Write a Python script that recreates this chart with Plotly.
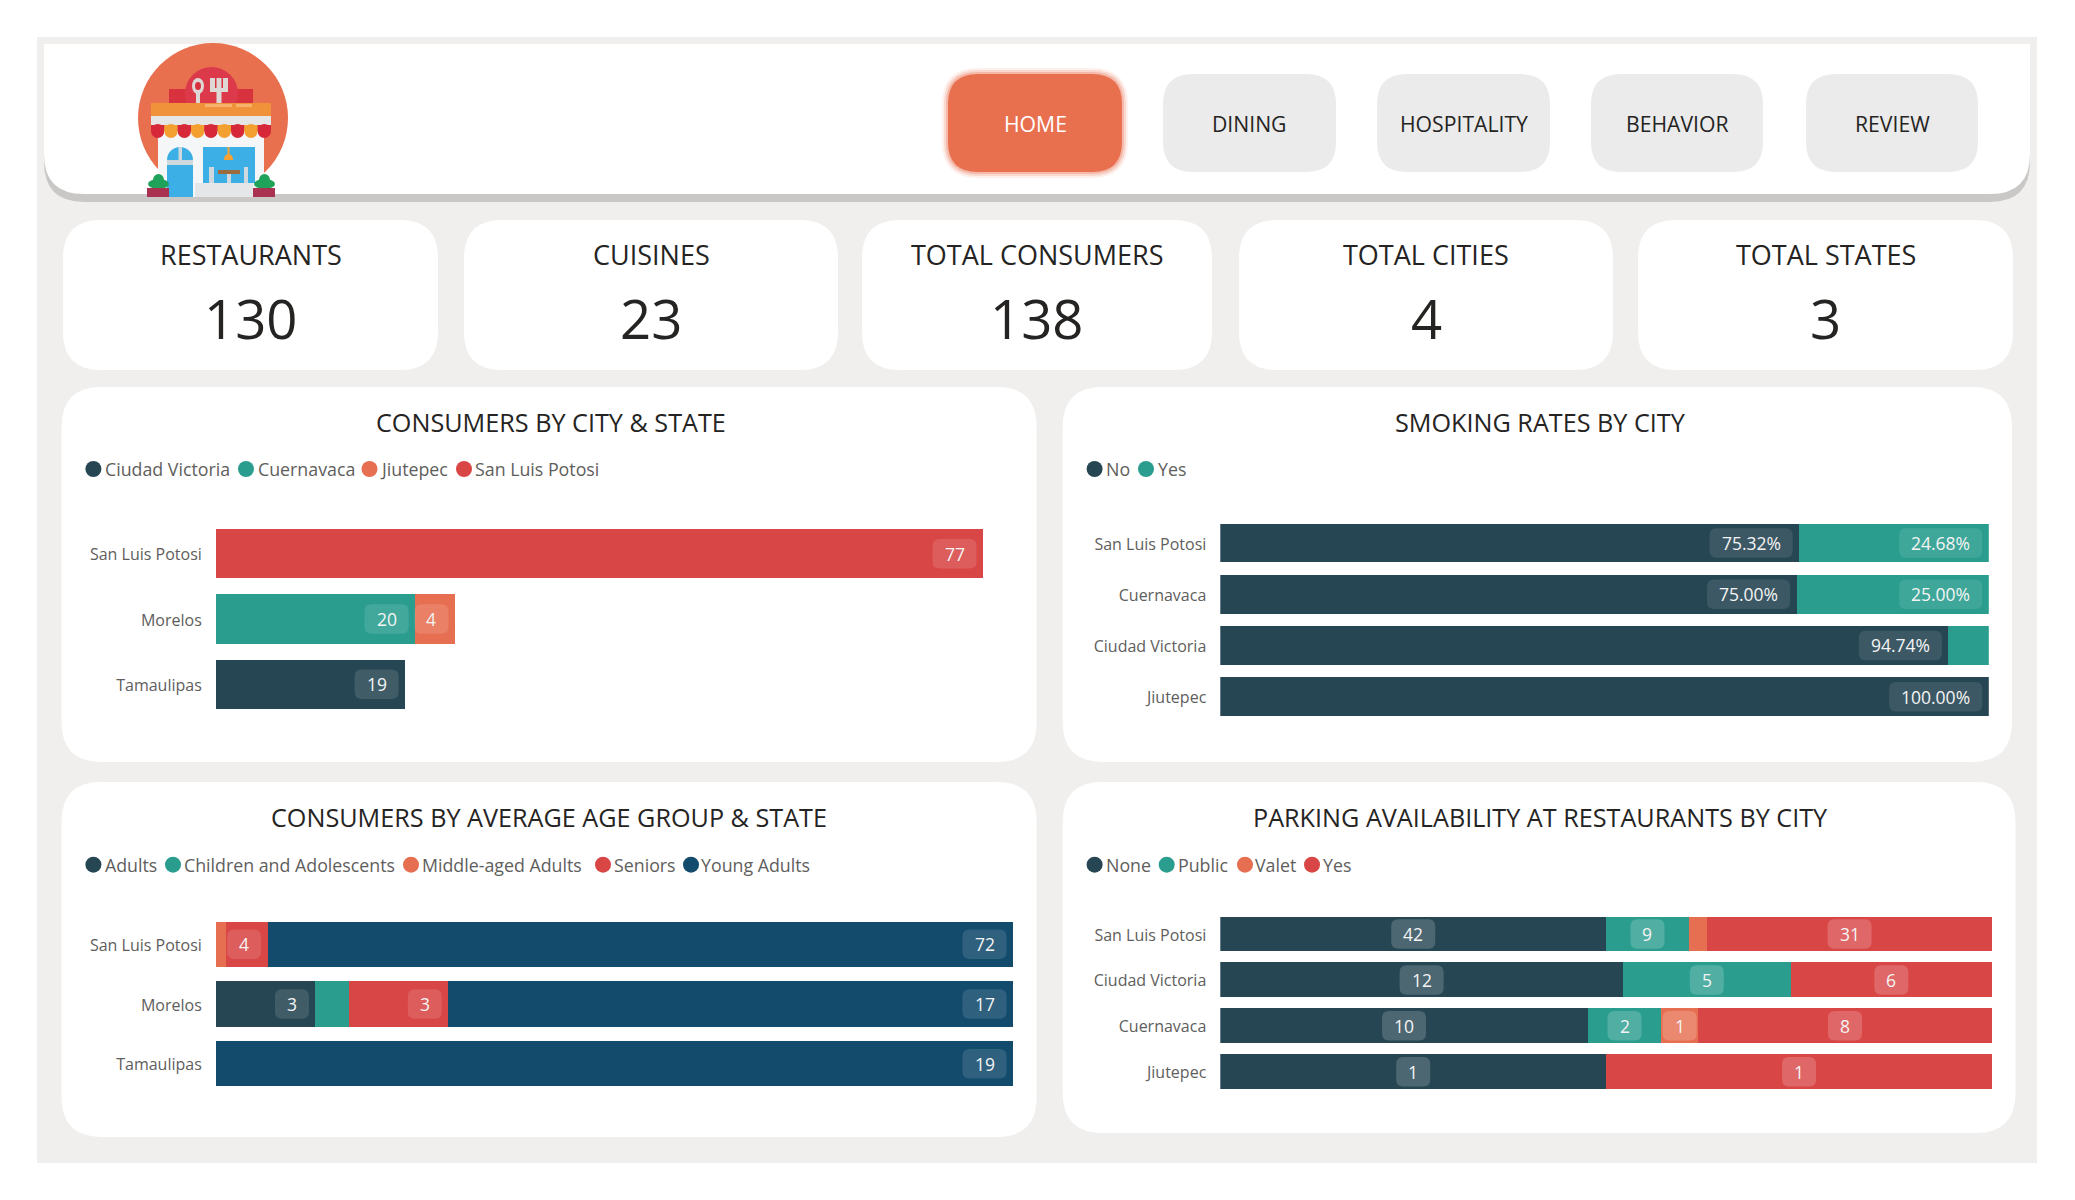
import plotly.graph_objects as go

W, H = 2075, 1200
FONT = "Open Sans"
TICK = "#605E5C"
INK = "#252423"
NAVY, TEAL, ORANGE, RED, BLUE = "#264653", "#2A9D8F", "#E76F51", "#D94646", "#134B6D"

# ---------- data ----------
kpi_titles = ["RESTAURANTS", "CUISINES", "TOTAL CONSUMERS", "TOTAL CITIES", "TOTAL STATES"]
kpi_values = ["130", "23", "138", "4", "3"]
nav_labels = ["HOME", "DINING", "HOSPITALITY", "BEHAVIOR", "REVIEW"]

states = ["San Luis Potosi", "Morelos", "Tamaulipas"]
city_series = ["Ciudad Victoria", "Cuernavaca", "Jiutepec", "San Luis Potosi"]
city_ciudad = [0, 0, 19]
city_cuernavaca = [0, 20, 0]
city_jiutepec = [0, 4, 0]
city_sanluis = [77, 0, 0]

smoke_cities = ["San Luis Potosi", "Cuernavaca", "Ciudad Victoria", "Jiutepec"]
smoke_series = ["No", "Yes"]
smoke_no = [75.32, 75.00, 94.74, 100.00]
smoke_yes = [24.68, 25.00, 5.26, 0]

age_series = ["Adults", "Children and Adolescents", "Middle-aged Adults", "Seniors", "Young Adults"]
age_adults = [0, 3, 0]
age_children = [0, 1, 0]
age_middle = [1, 0, 0]
age_seniors = [4, 3, 0]
age_young = [72, 17, 19]

park_cities = ["San Luis Potosi", "Ciudad Victoria", "Cuernavaca", "Jiutepec"]
park_series = ["None", "Public", "Valet", "Yes"]
park_none = [42, 12, 10, 1]
park_public = [9, 5, 2, 0]
park_valet = [2, 0, 1, 0]
park_yes = [31, 6, 8, 1]

# ---------- helpers ----------
px = lambda x: x / W
py = lambda y: 1 - y / H
shapes, annotations = [], []


def rrect_path(x0, y0, x1, y1, r):
    p = lambda x, y: f"{px(x):.5f},{py(y):.5f}"
    return (f"M{p(x0 + r, y0)} L{p(x1 - r, y0)} Q{p(x1, y0)} {p(x1, y0 + r)} "
            f"L{p(x1, y1 - r)} Q{p(x1, y1)} {p(x1 - r, y1)} L{p(x0 + r, y1)} "
            f"Q{p(x0, y1)} {p(x0, y1 - r)} L{p(x0, y0 + r)} Q{p(x0, y0)} {p(x0 + r, y0)} Z")


def rrect(x0, y0, x1, y1, r, fill):
    shapes.append(dict(type="path", xref="paper", yref="paper", path=rrect_path(x0, y0, x1, y1, r),
                       fillcolor=fill, line_width=0, layer="below"))


def rect(x0, y0, x1, y1, fill):
    shapes.append(dict(type="rect", xref="paper", yref="paper", x0=px(x0), x1=px(x1), y0=py(y1), y1=py(y0),
                       fillcolor=fill, line_width=0, layer="below"))


def oval(x0, y0, x1, y1, fill):
    shapes.append(dict(type="circle", xref="paper", yref="paper", x0=px(x0), x1=px(x1), y0=py(y1), y1=py(y0),
                       fillcolor=fill, line_width=0, layer="below"))


def header_path(x0, y0, x1, y1, r):
    p = lambda x, y: f"{px(x):.5f},{py(y):.5f}"
    return (f"M{p(x0, y0)} L{p(x1, y0)} L{p(x1, y1 - r)} Q{p(x1, y1)} {p(x1 - r, y1)} "
            f"L{p(x0 + r, y1)} Q{p(x0, y1)} {p(x0, y1 - r)} Z")


def label(x, y, text, size, color=INK, anchor="center"):
    annotations.append(dict(xref="paper", yref="paper", x=px(x), y=py(y), text=text, showarrow=False,
                            xanchor=anchor, yanchor="middle", font=dict(family=FONT, size=size, color=color)))


def text_w(s):
    return sum(4.7 if c == "." else 14.4 if c == "%" else 10 for c in s)


# ---------- page furniture ----------
rect(37, 37, 2037, 1163, "#F0EFEE")
shapes.append(dict(type="path", xref="paper", yref="paper", path=header_path(44, 52, 2030, 202, 40),
                   fillcolor="#C9C8C6", line_width=0, layer="below"))
shapes.append(dict(type="path", xref="paper", yref="paper", path=header_path(44, 44, 2030, 194, 40),
                   fillcolor="#FFFFFF", line_width=0, layer="below"))

# logo
oval(138, 43, 288, 193, "#E9704F")
rect(169, 89, 253, 104, "#D8323F")
oval(185, 67, 238, 120, "#DC3A4B")
oval(192, 78, 204, 94, "#DDD8D6")
oval(195, 82, 201, 90, "#D8323F")
rect(196, 92, 200, 103, "#DDD8D6")
rect(210, 78, 228, 92, "#DDD8D6")
rect(215, 78, 216.5, 88, "#D8323F")
rect(221.5, 78, 223, 88, "#D8323F")
rect(216.5, 90, 221.5, 103, "#DDD8D6")
rect(158, 130, 264, 197, "#F5F6F8")
oval(167, 147, 193, 173, "#3BAFE6")
rect(167, 160, 193, 197, "#3BAFE6")
rect(178.5, 147, 182, 162, "#CFD8DC")
rect(167, 160, 193, 165, "#CFD8DC")
rect(203, 147, 255, 183, "#3BAFE6")
rect(227.5, 147, 229.5, 155, "#F7A234")
oval(224, 154, 233, 165, "#F7A234")
rect(224, 160, 233, 166, "#3BAFE6")
rect(218, 170, 240, 174, "#9C6B3E")
rect(209, 167, 214, 183, "#CFD8DC")
rect(244, 167, 248, 183, "#CFD8DC")
rect(227, 174, 231, 183, "#CFD8DC")
rect(195, 183, 253, 197, "#E4E6E8")
rect(151, 103, 271, 116, "#F0923A")
rect(205, 104, 232, 107, "#F6B26B")
rect(236, 104, 252, 107, "#F6B26B")
rect(151, 116, 271, 125, "#E6E6E6")
for i in range(9):
    c = "#D62839" if i % 2 == 0 else "#F4A030"
    rect(151 + i * 13.33, 125, 151 + (i + 1) * 13.33, 131, c)
    oval(151 + i * 13.33, 124, 151 + (i + 1) * 13.33, 138, c)
for x0 in (147, 253):
    oval(x0 + 1, 179, x0 + 22, 189, "#1FA35A")
    oval(x0 + 6, 174, x0 + 17, 186, "#1FA35A")
    rect(x0, 188, x0 + 22, 197, "#A83250")

# nav buttons
nav_x = [(948, 1122), (1163, 1336), (1377, 1550), (1591, 1763), (1806, 1978)]
for i, (name, (x0, x1)) in enumerate(zip(nav_labels, nav_x)):
    if i == 0:
        for g, a in [(6, 0.10), (4, 0.18), (2, 0.3)]:
            rrect(x0 - g, 74 - g, x1 + g, 172 + g, 30 + g, f"rgba(233,112,79,{a})")
    rrect(x0, 74, x1, 172, 30, "#E9704F" if i == 0 else "#EBEBEB")
    label((x0 + x1) / 2, 124, name, 21.2, "#FFFFFF" if i == 0 else INK)

# KPI cards
kpi_x = [(63, 438), (464, 838), (862, 1212), (1239, 1613), (1638, 2013)]
for t, v, (x0, x1) in zip(kpi_titles, kpi_values, kpi_x):
    rrect(x0, 220, x1, 370, 38, "#FFFFFF")
    label((x0 + x1) / 2, 254.5, t, 27, INK)
    label((x0 + x1) / 2, 318, v, 54.5, INK)

fig = go.Figure()

# ---------- charts ----------
panels = [
    dict(box=(61.5, 387, 1036.6, 762), title="CONSUMERS BY CITY &amp; STATE", tc=(550.6, 421.7), ly=469,
         names=city_series, cats=states, series=[city_ciudad, city_cuernavaca, city_jiutepec, city_sanluis],
         colors=[NAVY, TEAL, ORANGE, RED], dots=[93.4, 246, 369.5, 464], texts=[105, 258.5, 380, 475],
         x0=215.8, x1=983, y0=521, y1=717, rng=77, mode="end", fmt="{:.0f}", alpha=0.12, norm=False),
    dict(box=(1062.7, 387, 2012, 762), title="SMOKING RATES BY CITY", tc=(1540, 421.7), ly=469,
         names=smoke_series, cats=smoke_cities, series=[smoke_no, smoke_yes],
         colors=[NAVY, TEAL], dots=[1094.6, 1146], texts=[1106, 1158.4],
         x0=1220.3, x1=1988.8, y0=517.4, y1=722.3, rng=100, mode="end", fmt="{:.2f}%", alpha=0.1, norm=False),
    dict(box=(61.5, 782, 1036.6, 1137), title="CONSUMERS BY AVERAGE AGE GROUP &amp; STATE", tc=(549.4, 816.7), ly=864.7,
         names=age_series, cats=states, series=[age_adults, age_children, age_middle, age_seniors, age_young],
         colors=[NAVY, TEAL, ORANGE, RED, BLUE], dots=[93.4, 173, 411, 603, 691], texts=[105.5, 184, 422.4, 614.4, 701],
         x0=215.8, x1=1013, y0=914.5, y1=1093.5, rng=100, mode="end", fmt="{:.0f}", alpha=0.12, norm=True),
    dict(box=(1062.7, 782, 2015.5, 1133), title="PARKING AVAILABILITY AT RESTAURANTS BY CITY", tc=(1540, 816.7), ly=864.7,
         names=park_series, cats=park_cities, series=[park_none, park_public, park_valet, park_yes],
         colors=[NAVY, TEAL, ORANGE, RED], dots=[1094.6, 1166.7, 1245, 1312], texts=[1106, 1178, 1255.4, 1323.6],
         x0=1220.3, x1=1992, y0=911, y1=1094.7, rng=100, mode="center", fmt="{:.0f}", alpha=0.18, norm=True),
]

axis_layout = {}
for n, P in enumerate(panels, start=1):
    xa, ya = f"x{n}", f"y{n}"
    rrect(*P["box"], 40, "#FFFFFF")
    label(P["tc"][0], P["tc"][1], P["title"], 25.2, INK)
    for name, c, dx, tx in zip(P["names"], P["colors"], P["dots"], P["texts"]):
        oval(dx - 8, P["ly"] - 8, dx + 8, P["ly"] + 8, c)
        label(tx - 2.5, P["ly"], name, 17.8, TICK, anchor="left")

    cats = P["cats"]
    totals = [sum(s[i] for s in P["series"]) for i in range(len(cats))]
    cum = [0.0] * len(cats)
    scale = (P["x1"] - P["x0"]) / P["rng"]
    for name, vals, c in zip(P["names"], P["series"], P["colors"]):
        shown = [v / t * 100 if P["norm"] else v for v, t in zip(vals, totals)]
        fig.add_trace(go.Bar(y=cats, x=shown, name=name, orientation="h", marker=dict(color=c, line_width=0),
                             xaxis=xa, yaxis=ya, showlegend=False))
        for i, (v, s) in enumerate(zip(vals, shown)):
            end = cum[i] + s
            if v:
                txt = P["fmt"].format(v)
                bw = text_w(txt) + 24
                seg = s * scale
                if seg >= bw:
                    if P["mode"] == "end":
                        ax, shift = end, -(6.5 + bw / 2)
                    else:
                        ax, shift = cum[i] + s / 2, 0
                    bh, r = 29.5, 7
                    L, R, T, B = shift - bw / 2, shift + bw / 2, bh / 2, -bh / 2
                    path = (f"M{L + r},{T} L{R - r},{T} Q{R},{T} {R},{T - r} L{R},{B + r} Q{R},{B} {R - r},{B} "
                            f"L{L + r},{B} Q{L},{B} {L},{B + r} L{L},{T - r} Q{L},{T} {L + r},{T} Z")
                    shapes.append(dict(type="path", xref=xa, yref=ya, xsizemode="pixel", ysizemode="pixel",
                                       xanchor=ax, yanchor=i, path=path, line_width=0,
                                       fillcolor=f"rgba(255,255,255,{P['alpha']})", layer="above"))
                    annotations.append(dict(xref=xa, yref=ya, x=ax, y=cats[i], xshift=shift, text=txt, showarrow=False,
                                            font=dict(family=FONT, size=17.5, color="#F4F4F4")))
            cum[i] = end

    axis_layout[f"xaxis{n}"] = dict(domain=[px(P["x0"]), px(P["x1"])], range=[0, P["rng"]], visible=False,
                                    anchor=ya, fixedrange=True)
    axis_layout[f"yaxis{n}"] = dict(domain=[py(P["y1"]), py(P["y0"])], type="category", range=[len(cats) - 0.5, -0.5],
                                    anchor=xa, showgrid=False, showline=False, zeroline=False, ticks="",
                                    ticklabelstandoff=13, ticklabelshift=-1,
                                    tickfont=dict(family=FONT, size=16, color=TICK), fixedrange=True)

fig.update_layout(width=W, height=H, margin=dict(l=0, r=0, t=0, b=0), paper_bgcolor="#FFFFFF", plot_bgcolor="rgba(0,0,0,0)",
                  barmode="stack", bargap=0.24, shapes=shapes, annotations=annotations, showlegend=False,
                  font=dict(family=FONT), **axis_layout)
fig.write_html("out.html", config={"displayModeBar": False}, post_script="document.body.style.margin='0';")
